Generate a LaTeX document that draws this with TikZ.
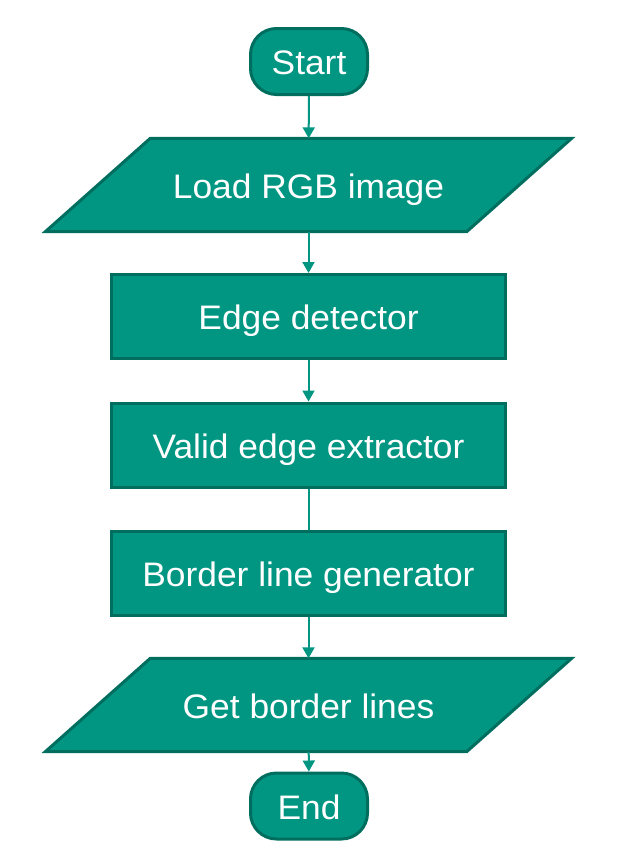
\documentclass[tikz,border=0pt]{standalone}
\usepackage{fontspec}
\setmainfont[FakeStretch=1.04]{Liberation Sans}
\usepackage{tikz}
\usetikzlibrary{arrows.meta,backgrounds}
\definecolor{tealfill}{RGB}{0,150,130}
\definecolor{tealline}{RGB}{0,110,95}
\tikzset{
  every node/.style={font=\fontsize{34}{40}\selectfont, text=white,
    text height=26pt, text depth=0pt},
  termbox/.style={draw=tealline, fill=tealfill, line width=3pt, rectangle,
    rounded corners=26pt, minimum width=117pt, minimum height=66pt, inner sep=0pt},
  ioslot/.style={rectangle, minimum width=421pt, minimum height=93pt, inner sep=0pt},
  ioshape/.style={draw=tealline, fill=tealfill, line width=3pt, line join=miter},
  procbox/.style={draw=tealline, fill=tealfill, line width=3pt, rectangle,
    minimum width=394pt, minimum height=84pt, inner sep=0pt},
  flowarrow/.style={draw=tealfill, line width=2pt, -{Triangle[width=12pt,length=11pt]}},
  flowline/.style={draw=tealfill, line width=2pt}
}

\begin{document}
\begin{tikzpicture}[x=1pt, y=-1pt]
        \useasboundingbox (0,0) rectangle (618,855);
        % Nodes of the flow chart
        \node[termbox] (start) at (309,61.5) {Start};
        \node[ioslot] (load) at (308.5,185) {Load RGB image};
        \node[procbox] (edge) at (308.5,316.5) {Edge detector};
        \node[procbox] (valid) at (308.5,445) {Valid edge extractor};
        \node[procbox] (border) at (308.5,573.5) {Border line generator};
        \node[ioslot] (get) at (308.5,705) {Get border lines};
        \node[termbox] (end) at (309,806) {End};

        % Parallelograms behind the input/output texts
        \begin{scope}[on background layer]
        \foreach \n in {load,get}
          \draw[ioshape] ([xshift=-52.5pt]\n.south west) -- ([xshift=52.5pt]\n.north west)
            -- ([xshift=52.5pt]\n.north east) -- ([xshift=-52.5pt]\n.south east) -- cycle;
        \end{scope}

        % Connectors
        \draw[flowarrow] (start) -- (load);
        \draw[flowarrow] (load) -- (edge);
        \draw[flowarrow] (edge) -- (valid);
        \draw[flowline] (valid) -- (border);
        \draw[flowarrow] (border) -- (get);
        \draw[flowarrow] (get) -- (end);
    \end{tikzpicture}
\end{document}
